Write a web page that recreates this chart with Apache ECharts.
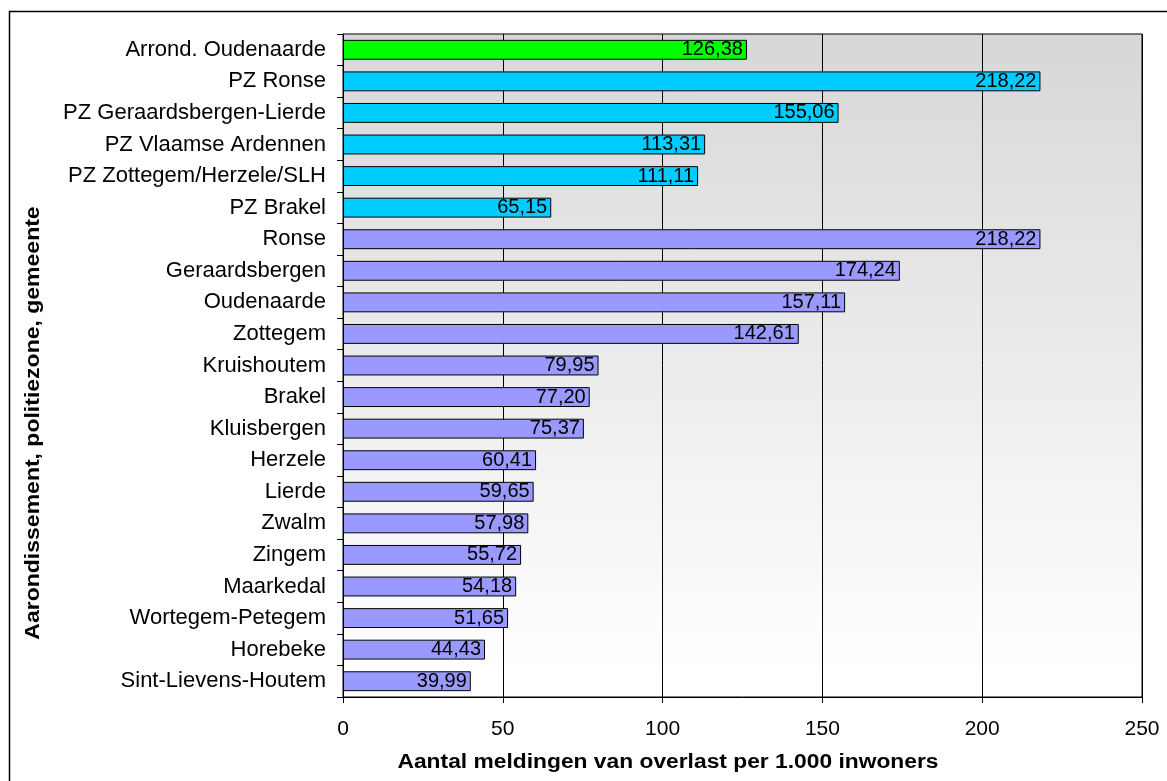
<!DOCTYPE html>
<html>
<head>
<meta charset="utf-8">
<script src="https://cdn.jsdelivr.net/npm/echarts@6/dist/echarts.min.js"></script>
<style>
html,body{margin:0;padding:0;background:#fff;}
#chart{width:1167px;height:781px;}
</style>
</head>
<body>
<div id="chart"></div>
<script>
const categories = [
  'Arrond. Oudenaarde', 'PZ Ronse', 'PZ Geraardsbergen-Lierde', 'PZ Vlaamse Ardennen',
  'PZ Zottegem/Herzele/SLH', 'PZ Brakel', 'Ronse', 'Geraardsbergen', 'Oudenaarde',
  'Zottegem', 'Kruishoutem', 'Brakel', 'Kluisbergen', 'Herzele', 'Lierde', 'Zwalm',
  'Zingem', 'Maarkedal', 'Wortegem-Petegem', 'Horebeke', 'Sint-Lievens-Houtem'
];
const values = [
  126.38, 218.22, 155.06, 113.31, 111.11, 65.15, 218.22, 174.24, 157.11,
  142.61, 79.95, 77.20, 75.37, 60.41, 59.65, 57.98, 55.72, 54.18, 51.65, 44.43, 39.99
];
// level of each row: arrondissement, politiezone, gemeente
const levels = [
  'arr', 'pz', 'pz', 'pz', 'pz', 'pz', 'gem', 'gem', 'gem', 'gem', 'gem', 'gem',
  'gem', 'gem', 'gem', 'gem', 'gem', 'gem', 'gem', 'gem', 'gem'
];
const levelColors = { arr: '#00ff00', pz: '#00ccff', gem: '#9999ff' };
const xTitle = 'Aantal meldingen van overlast per 1.000 inwoners';
const yTitle = 'Aarondissement, politiezone, gemeente';

const FONT = '"Liberation Sans", Arial, sans-serif';
const chart = echarts.init(document.getElementById('chart'));

chart.setOption({
  animation: false,
  backgroundColor: '#fff',
  grid: {
    left: 343, top: 34, right: 25, bottom: 84,
    show: true,
    borderColor: '#000', borderWidth: 1,
    backgroundColor: {
      type: 'linear', x: 0, y: 0, x2: 0, y2: 1,
      colorStops: [{ offset: 0, color: '#d7d7d7' }, { offset: 0.96, color: '#ffffff' }, { offset: 1, color: '#ffffff' }]
    }
  },
  xAxis: {
    type: 'value', min: 0, max: 250, interval: 50,
    axisLine: { show: true, lineStyle: { color: '#000', width: 1 } },
    axisTick: { show: true, length: 6, lineStyle: { color: '#000' } },
    axisLabel: { color: '#000', fontSize: 21, fontFamily: FONT, margin: 22 },
    splitLine: { show: true, lineStyle: { color: '#000', width: 1 } }
  },
  yAxis: {
    type: 'category', data: categories, inverse: true,
    axisLine: { show: true, lineStyle: { color: '#000', width: 1 } },
    axisTick: { show: true, length: 6, lineStyle: { color: '#000' } },
    axisLabel: { color: '#000', fontSize: 22, fontFamily: FONT, margin: 17 },
    splitLine: { show: false }
  },
  series: [{
    type: 'bar',
    data: values.map((v, i) => ({
      value: v,
      itemStyle: { color: levelColors[levels[i]] }
    })),
    barCategoryGap: '37%',
    itemStyle: { borderColor: '#000', borderWidth: 1 },
    label: {
      show: true, position: 'insideRight', distance: 4,
      color: '#000', fontSize: 20, fontFamily: FONT,
      formatter: p => p.value.toFixed(2).replace('.', ',')
    }
  }],
  graphic: [
    {
      type: 'rect', silent: true, z: 100,
      shape: { x: 9.5, y: 11.5, width: 1300, height: 900 },
      style: { fill: null, stroke: '#000', lineWidth: 1.5 }
    },
    {
      type: 'text', x: 33, y: 423, rotation: Math.PI / 2, scaleX: 1.15,
      style: {
        text: yTitle, fill: '#000', font: 'bold 20px ' + FONT,
        textAlign: 'center', textVerticalAlign: 'middle'
      }
    },
    {
      type: 'text', x: 668, y: 762, scaleX: 1.14,
      style: {
        text: xTitle, fill: '#000', font: 'bold 20px ' + FONT,
        textAlign: 'center', textVerticalAlign: 'middle'
      }
    }
  ]
});
</script>
</body>
</html>
